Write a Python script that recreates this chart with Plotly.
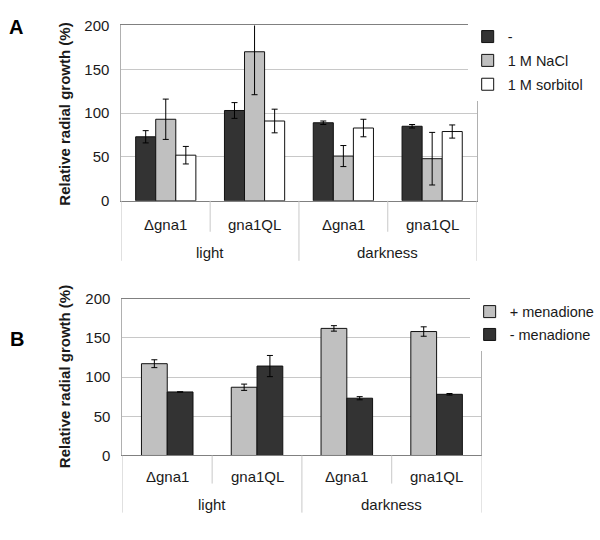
import plotly.graph_objects as go

# categories
groups = ["light", "light", "darkness", "darkness"]
strains = ["Δgna1", "gna1QL", "Δgna1", "gna1QL"]

# panel A: osmotic stress
a_names = ["-", "1 M NaCl", "1 M sorbitol"]
a_control = [73, 103, 89, 85]
a_control_err = [7, 9, 2, 2]
a_nacl = [93, 170, 51, 48]
a_nacl_err = [23, 49, 12, 30]
a_sorbitol = [52, 91, 83, 79]
a_sorbitol_err = [10, 13.5, 10, 7.5]

# panel B: menadione
b_names = ["+ menadione", "- menadione"]
b_plus = [117, 87, 162, 158]
b_plus_err = [5, 4, 3.5, 6]
b_minus = [81, 114, 73, 78]
b_minus_err = [0, 13.5, 2, 1]

FONT = "Liberation Sans, Arial, sans-serif"
DARK = "#333333"
GREY = "#c0c0c0"
WHITE = "#ffffff"
TXT = "#1a1a1a"
LINE = "#c8c8c8"
FS = 15

# one category per bar cluster (group + strain)
cats = [g + " / " + s for g, s in zip(groups, strains)]

fig = go.Figure()

a_vals = [a_control, a_nacl, a_sorbitol]
a_errs = [a_control_err, a_nacl_err, a_sorbitol_err]
a_cols = [DARK, GREY, WHITE]
wa = 0.226
for i in range(3):
    fig.add_trace(go.Bar(
        x=cats, y=a_vals[i], name=a_names[i],
        marker=dict(color=a_cols[i], line=dict(color="#111", width=1)),
        error_y=dict(type="data", array=a_errs[i], color="#000", thickness=1, width=3),
        width=wa, offset=-1.5 * wa + i * wa,
        xaxis="x", yaxis="y", legend="legend", legendgroup="a%d" % i,
    ))

b_vals = [b_plus, b_minus]
b_errs = [b_plus_err, b_minus_err]
b_cols = [GREY, DARK]
wb = 0.287
for i in range(2):
    fig.add_trace(go.Bar(
        x=cats, y=b_vals[i], name=b_names[i],
        marker=dict(color=b_cols[i], line=dict(color="#111", width=1)),
        error_y=dict(type="data", array=b_errs[i], color="#000", thickness=1, width=3),
        width=wb, offset=-wb + i * wb,
        xaxis="x2", yaxis="y2", legend="legend2", legendgroup="b%d" % i,
    ))

xax = dict(
    type="category", categoryorder="array", categoryarray=cats,
    range=[-0.5, len(cats) - 0.5], showgrid=False, showticklabels=False,
    showline=True, linecolor="#808080", mirror=True, ticks="",
)
yax = dict(
    range=[0, 200], dtick=50, showgrid=True, gridcolor=LINE,
    showline=True, linecolor="#b0b0b0", mirror=True, zeroline=False,
    ticks="", ticklabelstandoff=8,
    tickfont=dict(family=FONT, size=FS, color=TXT),
)

annotations = []
shapes = []


def category_axis(xr, yr, h, lab1, lab2, tick1, tick2):
    # two-level labels below the plot, in pixels below the zero line
    for i, s in enumerate(strains):
        annotations.append(dict(
            text=s, x=i, y=-lab1 / h, xref=xr, yref=yr + " domain",
            xanchor="center", yanchor="middle", showarrow=False,
            font=dict(family=FONT, size=FS, color=TXT)))
    seen = []
    for g in groups:
        if g not in seen:
            seen.append(g)
    for g in seen:
        idx = [i for i, gg in enumerate(groups) if gg == g]
        annotations.append(dict(
            text=g, x=sum(idx) / len(idx), y=-lab2 / h, xref=xr, yref=yr + " domain",
            xanchor="center", yanchor="middle", showarrow=False,
            font=dict(family=FONT, size=FS, color=TXT)))
    for i in range(len(cats) + 1):
        b = i - 0.5
        full = i == 0 or i == len(cats) or groups[i] != groups[i - 1]
        depth = tick2 if full else tick1
        shapes.append(dict(
            type="line", xref=xr, yref=yr + " domain", x0=b, x1=b,
            y0=0, y1=-depth / h, line=dict(color=LINE, width=1)))


category_axis("x", "y", 181, 24, 53, 32, 62)
category_axis("x2", "y2", 162, 22, 51, 29, 59)

annotations += [
    dict(text="<b>A</b>", x=16 / 600, y=1 - 19 / 540, xref="paper", yref="paper",
         xanchor="center", yanchor="middle", showarrow=False,
         font=dict(family=FONT, size=20, color="#000")),
    dict(text="<b>B</b>", x=17 / 600, y=1 - 341 / 540, xref="paper", yref="paper",
         xanchor="center", yanchor="middle", showarrow=False,
         font=dict(family=FONT, size=20, color="#000")),
    dict(text="<b>Relative radial growth (%)</b>", textangle=-90,
         x=65 / 600, y=1 - 109 / 540, xref="paper", yref="paper",
         xanchor="center", yanchor="middle", showarrow=False,
         font=dict(family=FONT, size=FS, color=TXT)),
    dict(text="<b>Relative radial growth (%)</b>", textangle=-90,
         x=65 / 600, y=1 - 380 / 540, xref="paper", yref="paper",
         xanchor="center", yanchor="middle", showarrow=False,
         font=dict(family=FONT, size=FS, color=TXT)),
]

fig.update_layout(
    width=600, height=540, autosize=False,
    margin=dict(l=0, r=0, t=0, b=0),
    paper_bgcolor="white", plot_bgcolor="white",
    barmode="overlay", showlegend=True,
    font=dict(family=FONT, size=FS, color=TXT),
    xaxis=dict(xax, domain=[123 / 600, 483 / 600], anchor="y"),
    yaxis=dict(yax, domain=[1 - 198 / 540, 1 - 17 / 540], anchor="x"),
    xaxis2=dict(xax, domain=[124 / 600, 488 / 600], anchor="y2"),
    yaxis2=dict(yax, domain=[1 - 461 / 540, 1 - 299 / 540], anchor="x2"),
    legend=dict(x=474 / 600, y=1 - 12 / 540, xanchor="left", yanchor="top",
                traceorder="grouped", tracegroupgap=2, itemwidth=30,
                font=dict(family=FONT, size=14.5, color=TXT)),
    legend2=dict(x=476 / 600, y=1 - 296 / 540, xanchor="left", yanchor="top",
                 traceorder="grouped", tracegroupgap=1, itemwidth=30,
                 font=dict(family=FONT, size=14.5, color=TXT)),
    annotations=annotations,
    shapes=shapes,
)

fig.write_html("out.html", config={"displayModeBar": False},
               post_script="document.body.style.margin='0';")
